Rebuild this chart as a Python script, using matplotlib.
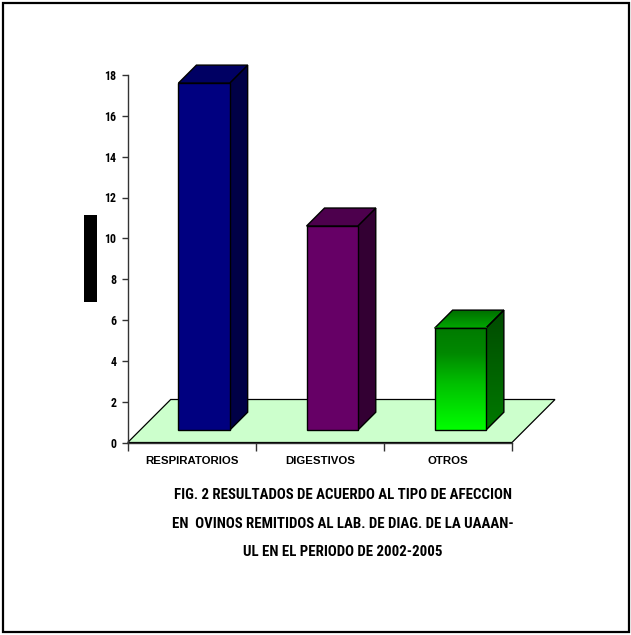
import numpy as np
import matplotlib
matplotlib.use("Agg")
import matplotlib.pyplot as plt
from matplotlib import font_manager
from matplotlib.patches import Polygon, Rectangle
from matplotlib.colors import LinearSegmentedColormap

# Data
categories = ["RESPIRATORIOS", "DIGESTIVOS", "OTROS"]
values = [17, 10, 5]
y_ticks = [0, 2, 4, 6, 8, 10, 12, 14, 16, 18]
caption_lines = [
    "FIG. 2 RESULTADOS DE ACUERDO AL TIPO DE AFECCION",
    "EN  OVINOS REMITIDOS AL LAB. DE DIAG. DE LA UAAAN-",
    "UL EN EL PERIODO DE 2002-2005",
]


def pick_family(names):
    for n in names:
        try:
            font_manager.findfont(font_manager.FontProperties(family=n),
                                  fallback_to_default=False)
            return n, True
        except Exception:
            continue
    return "Liberation Sans", False


narrow, is_narrow = pick_family(["Liberation Sans Narrow", "Arial Narrow",
                                 "Roboto Condensed"])
caption_size = 10.7 if is_narrow else 8.8
tick_size = 8.6 if is_narrow else 7.3

W, H, DPI = 631, 635, 100
fig = plt.figure(figsize=(W / DPI, H / DPI), dpi=DPI)
fig.patch.set_facecolor("white")

# axes box in pixels (left, top, right, bottom)
L, T, R, B = 127.7, 75.0, 512.0, 442.5
ax = fig.add_axes([L / W, 1 - B / H, (R - L) / W, (B - T) / H])
ax.set_xlim(-0.5, 2.5)
ax.set_ylim(0, 18)
ax.set_facecolor("none")

# pixel -> data unit helpers
px_x = 3.0 / (R - L)
px_y = 18.0 / (B - T)

FLOOR_DEPTH = 43.0      # px, depth of the 3D floor
BAR_FRONT = 12.3        # px, depth position of bar fronts
BAR_DEPTH = 18.0        # px, depth of each bar
BAR_W = 0.40            # fraction of category width

# floor
fx, fy = FLOOR_DEPTH * px_x, FLOOR_DEPTH * px_y
floor = Polygon([(-0.5, 0), (2.5, 0), (2.5 + fx, fy), (-0.5 + fx, fy)],
                closed=True, facecolor="#ccffcc", edgecolor="black",
                linewidth=0.9, clip_on=False, zorder=1)
ax.add_patch(floor)

front_cols = ["#000080", "#660066", None]
side_cols = ["#000046", "#330033", None]
top_cols = ["#000063", "#4d004d", None]

ox, oy = BAR_FRONT * px_x, BAR_FRONT * px_y
dx, dy = BAR_DEPTH * px_x, BAR_DEPTH * px_y

green_front = LinearSegmentedColormap.from_list(
    "gf", [(0.0, "#00ff00"), (0.45, "#00c000"), (0.75, "#008800"), (1.0, "#007a00")])
green_side = LinearSegmentedColormap.from_list(
    "gs", [(0.0, "#007a00"), (1.0, "#004a00")])
green_top = LinearSegmentedColormap.from_list(
    "gt", [(0.0, "#00a800"), (1.0, "#006e00")])

for i, (cat, v) in enumerate(zip(categories, values)):
    x0 = i - BAR_W / 2 + ox
    x1 = i + BAR_W / 2 + ox
    y0 = oy
    y1 = oy + v
    front = [(x0, y0), (x1, y0), (x1, y1), (x0, y1)]
    side = [(x1, y0), (x1 + dx, y0 + dy), (x1 + dx, y1 + dy), (x1, y1)]
    top = [(x0, y1), (x1, y1), (x1 + dx, y1 + dy), (x0 + dx, y1 + dy)]
    if front_cols[i] is not None:
        ax.add_patch(Polygon(side, facecolor=side_cols[i], edgecolor="black",
                             linewidth=1.0, clip_on=False, zorder=3))
        ax.add_patch(Polygon(top, facecolor=top_cols[i], edgecolor="black",
                             linewidth=1.0, clip_on=False, zorder=3))
        ax.add_patch(Polygon(front, facecolor=front_cols[i], edgecolor="black",
                             linewidth=1.0, clip_on=False, zorder=4))
    else:
        grad = np.linspace(0, 1, 256).reshape(-1, 1)
        # side face gradient
        sp = Polygon(side, facecolor="none", edgecolor="none", zorder=3)
        ax.add_patch(sp)
        im = ax.imshow(grad, cmap=green_side, origin="lower", aspect="auto",
                       extent=(x1, x1 + dx, y0, y1 + dy), zorder=3)
        im.set_clip_path(sp)
        ax.add_patch(Polygon(side, facecolor="none", edgecolor="black",
                             linewidth=1.0, clip_on=False, zorder=3.5))
        # top face gradient
        tp = Polygon(top, facecolor="none", edgecolor="none", zorder=3)
        ax.add_patch(tp)
        im = ax.imshow(grad, cmap=green_top, origin="lower", aspect="auto",
                       extent=(x0, x1 + dx, y1, y1 + dy), zorder=3)
        im.set_clip_path(tp)
        ax.add_patch(Polygon(top, facecolor="none", edgecolor="black",
                             linewidth=1.0, clip_on=False, zorder=3.5))
        # front face gradient
        ax.imshow(grad, cmap=green_front, origin="lower", aspect="auto",
                  extent=(x0, x1, y0, y1), zorder=4)
        ax.add_patch(Polygon(front, facecolor="none", edgecolor="black",
                             linewidth=1.0, clip_on=False, zorder=4.5))

ax.set_xlim(-0.5, 2.5)
ax.set_ylim(0, 18)

# axes styling
for s in ["top", "right"]:
    ax.spines[s].set_visible(False)
ax.spines["left"].set_linewidth(1.0)
ax.spines["bottom"].set_linewidth(1.0)
ax.spines["left"].set_color("#333333")
ax.spines["bottom"].set_color("#333333")

num_font = [narrow, "Liberation Sans", "DejaVu Sans"]
ax.set_yticks(y_ticks)
ax.set_yticklabels([str(t) for t in y_ticks], fontsize=tick_size,
                   fontweight="bold", family=num_font)
ax.tick_params(axis="y", direction="out", length=4, width=1.0,
               pad=4, colors="#333333", labelcolor="black")

ax.set_xticks([-0.5, 0.5, 1.5, 2.5])
ax.set_xticklabels([])
ax.set_xticks([0, 1, 2], minor=True)
ax.set_xticklabels(categories, minor=True, fontsize=8.2, fontweight="bold",
                   family=["Liberation Sans", "DejaVu Sans"])
ax.tick_params(axis="x", which="major", direction="out", length=5.5,
               width=1.0, colors="#333333")
ax.tick_params(axis="x", which="minor", length=0, pad=10, labelcolor="black")

# black block where the vertical axis title sits
fig.patches.append(Rectangle((84 / W, 1 - 302 / H), 13 / W, 87 / H,
                             transform=fig.transFigure, facecolor="black",
                             edgecolor="none"))

# caption
for k, line in enumerate(caption_lines):
    fig.text(343 / W, 1 - (495 + 28.5 * k) / H, line, ha="center", va="center",
             fontsize=caption_size, fontweight="bold", family=num_font)

# outer frame
fig.patches.append(Rectangle((2.5 / W, 3 / H), (W - 5) / W, (H - 6) / H,
                             transform=fig.transFigure, facecolor="none",
                             edgecolor="black", linewidth=1.6))

fig.savefig("out.png", dpi=DPI)
